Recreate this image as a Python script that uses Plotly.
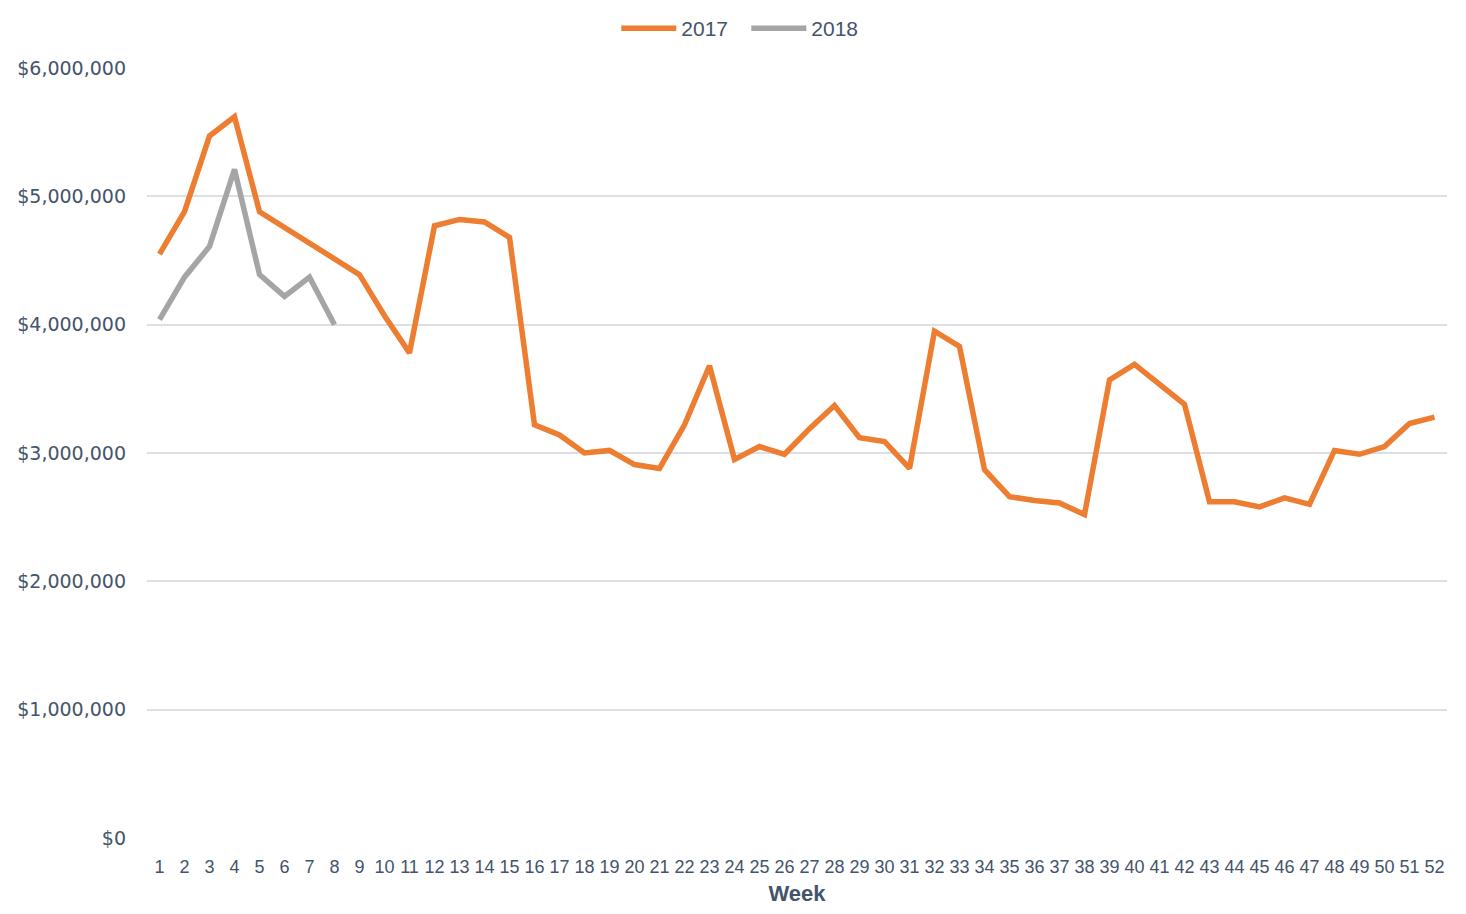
import plotly.graph_objects as go

weeks = [str(i) for i in range(1, 53)]
sales_2017 = [4.55e6, 4.88e6, 5.47e6, 5.62e6, 4.88e6, 4.76e6, 4.63e6, 4.52e6, 4.39e6, 4.07e6,
              3.78e6, 4.77e6, 4.82e6, 4.80e6, 4.68e6, 3.22e6, 3.14e6, 3.00e6, 3.02e6, 2.91e6,
              2.88e6, 3.22e6, 3.68e6, 2.95e6, 3.05e6, 2.99e6, 3.19e6, 3.37e6, 3.12e6, 3.09e6,
              2.88e6, 3.95e6, 3.83e6, 2.87e6, 2.66e6, 2.63e6, 2.61e6, 2.52e6, 3.57e6, 3.69e6,
              3.54e6, 3.38e6, 2.62e6, 2.62e6, 2.58e6, 2.65e6, 2.60e6, 3.02e6, 2.99e6, 3.05e6,
              3.23e6, 3.28e6]
sales_2018 = [4.04e6, 4.37e6, 4.61e6, 5.21e6, 4.39e6, 4.22e6, 4.37e6, 4.00e6]

y_ticks = [0, 1e6, 2e6, 3e6, 4e6, 5e6, 6e6]
y_labels = ["$0", "$1,000,000", "$2,000,000", "$3,000,000", "$4,000,000", "$5,000,000", "$6,000,000"]

text_color = "#44546A"

fig = go.Figure()
fig.add_trace(go.Scatter(x=weeks, y=sales_2017, mode="lines", name="2017",
                         line=dict(color="#ED7D31", width=5.5)))
fig.add_trace(go.Scatter(x=weeks[:len(sales_2018)], y=sales_2018, mode="lines", name="2018",
                         line=dict(color="#A5A5A5", width=5.5)))

fig.update_layout(
    width=1450, height=898,
    margin=dict(l=139, r=11, t=60, b=68),
    paper_bgcolor="white", plot_bgcolor="white",
    font=dict(family="Liberation Sans, sans-serif", color=text_color),
    legend=dict(orientation="h", x=0.461, xanchor="center", y=1.0, yref="container",
                yanchor="top", font=dict(size=21, color=text_color,
                family="Liberation Sans, sans-serif"),
                itemwidth=55, entrywidth=60, entrywidthmode="pixels",
                bgcolor="rgba(0,0,0,0)"),
    xaxis=dict(type="category", categoryorder="array", categoryarray=weeks,
               tickmode="array", tickvals=weeks, ticktext=weeks, tickangle=0,
               range=[-0.5, 51.5], showgrid=False, zeroline=False, showline=False,
               automargin=False,
               tickfont=dict(size=18, color=text_color,
                             family="Liberation Sans, sans-serif"),
               ticks="", ticklabelstandoff=16,
               title=dict(text="<b>Week</b>", standoff=18,
                          font=dict(size=22, color=text_color,
                                    family="Liberation Sans, sans-serif"))),
    yaxis=dict(range=[0, 6e6], tickmode="array", tickvals=y_ticks, ticktext=y_labels,
               showgrid=True, gridcolor="#DCE0E6", gridwidth=1.5, zeroline=False,
               showline=False, ticks="", ticklabelstandoff=20, automargin=False,
               tickfont=dict(size=19, color=text_color, family="DejaVu Sans, sans-serif")),
)

fig.write_html("out.html")
